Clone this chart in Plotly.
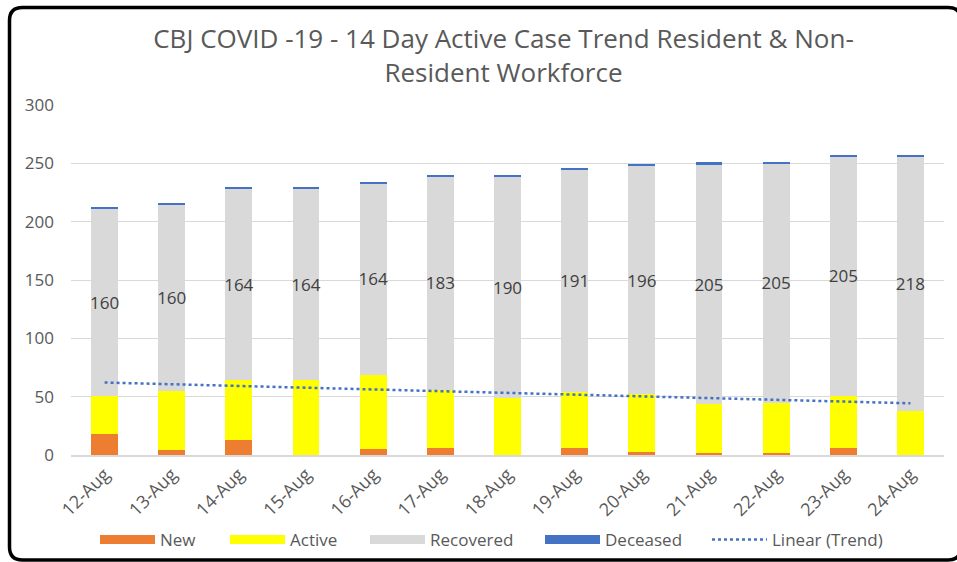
import numpy as np
import plotly.graph_objects as go

dates = ["12-Aug", "13-Aug", "14-Aug", "15-Aug", "16-Aug", "17-Aug", "18-Aug",
         "19-Aug", "20-Aug", "21-Aug", "22-Aug", "23-Aug", "24-Aug"]
new = [18, 4, 13, 0, 5, 6, 0, 6, 3, 2, 2, 6, 0]
active = [33, 51, 51, 64, 64, 50, 49, 48, 49, 42, 43, 45, 38]
recovered = [160, 160, 164, 164, 164, 183, 190, 191, 196, 205, 205, 205, 218]
deceased = [1, 1, 2, 2, 1, 1, 1, 1, 1, 2, 1, 1, 1]
y_ticks = [0, 50, 100, 150, 200, 250, 300]

# Linear trendline (least squares) on New + Active, as Excel does
xi = np.arange(len(dates))
na = np.array(new) + np.array(active)
slope, intercept = np.polyfit(xi, na, 1)
trend = slope * xi + intercept

FONT = "'Open Sans', Lato, sans-serif"
GREY_TXT = "#595959"
C_NEW, C_ACT, C_REC, C_DEC = "#ED7D31", "#FFFF00", "#D9D9D9", "#4472C4"

# frame helper (pixel -> paper)
L, R, T, B = 71, 13, 105, 107
W, H = 957 - L - R, 562 - T - B
def px(x):
    return (x - L) / W
def py(y):
    return (562 - B - y) / H

fig = go.Figure()
series = [("New", new, C_NEW), ("Active", active, C_ACT),
          ("Recovered", recovered, C_REC), ("Deceased", deceased, C_DEC)]
legend_ids = ["legend", "legend2", "legend3", "legend4", "legend5"]
legend_left = [95, 225, 365, 540, 707]   # pixel left edge of each legend entry

for name, vals, col in series:
    kw = {}
    if name == "Recovered":
        kw = dict(text=[str(v) for v in vals], textposition="inside", insidetextanchor="middle",
                  textangle=0, constraintext="none",
                  insidetextfont=dict(family=FONT, size=17, color="#404040"))
    fig.add_trace(go.Bar(x=dates, y=vals, name=name, legendgroup=name, showlegend=False,
                         marker=dict(color=col, line=dict(width=0)), **kw))
# legend entries drawn as wide swatches (Excel style)
for i, (name, vals, col) in enumerate(series):
    fig.add_trace(go.Scatter(x=[None], y=[None], name=name, legendgroup=name, mode="lines",
                             line=dict(color=col, width=9), legend=legend_ids[i]))
fig.add_trace(go.Scatter(x=dates, y=trend, name="Linear (Trend)", mode="lines",
                         line=dict(color=C_DEC, width=2.5, dash="dot"), legend=legend_ids[4]))

x0, y0, x1, y1, r = 9.5, 7.5, 961, 560, 13
path = (f"M {px(x0)},{py(y0 + r)} "
        f"L {px(x0)},{py(y1 - r)} Q {px(x0)},{py(y1)} {px(x0 + r)},{py(y1)} "
        f"L {px(x1 - r)},{py(y1)} Q {px(x1)},{py(y1)} {px(x1)},{py(y1 - r)} "
        f"L {px(x1)},{py(y0 + r)} Q {px(x1)},{py(y0)} {px(x1 - r)},{py(y0)} "
        f"L {px(x0 + r)},{py(y0)} Q {px(x0)},{py(y0)} {px(x0)},{py(y0 + r)} Z")

legend_common = dict(orientation="h", xanchor="left", y=py(540), yanchor="middle",
                     font=dict(size=17, color=GREY_TXT), itemwidth=55,
                     bgcolor="rgba(0,0,0,0)", borderwidth=0)
legends = {lid: dict(legend_common, x=px(lx)) for lid, lx in zip(legend_ids, legend_left)}

fig.update_layout(
    width=957, height=562,
    margin=dict(l=L, r=R, t=T, b=B, autoexpand=False),
    paper_bgcolor="white", plot_bgcolor="white",
    barmode="stack", bargap=0.6,
    font=dict(family=FONT, color=GREY_TXT),
    title=dict(text="CBJ COVID -19 - 14 Day Active Case Trend Resident &amp; Non-<br>Resident Workforce",
               x=503.5 / 957, xanchor="center", y=1 - 48 / 562, yanchor="middle",
               font=dict(family=FONT, size=26, color=GREY_TXT)),
    xaxis=dict(type="category", tickangle=-45, tickfont=dict(size=18, color=GREY_TXT),
               showgrid=False, showline=True, linecolor="#D9D9D9", linewidth=1.5,
               ticks="", range=[-0.5, len(dates) - 0.5], automargin=False),
    yaxis=dict(range=[0, 300], tickvals=y_ticks, showgrid=True, gridcolor="#D9D9D9", gridwidth=1,
               zeroline=False, showline=False, tickfont=dict(size=17, color=GREY_TXT),
               ticklabelstandoff=16, automargin=False),
    shapes=[dict(type="path", xref="paper", yref="paper", path=path,
                 line=dict(color="black", width=3.5), layer="above")],
    showlegend=True,
    **legends,
)

fig.write_html("out.html", post_script="document.body.style.margin='0';",
               config={"displayModeBar": False})
